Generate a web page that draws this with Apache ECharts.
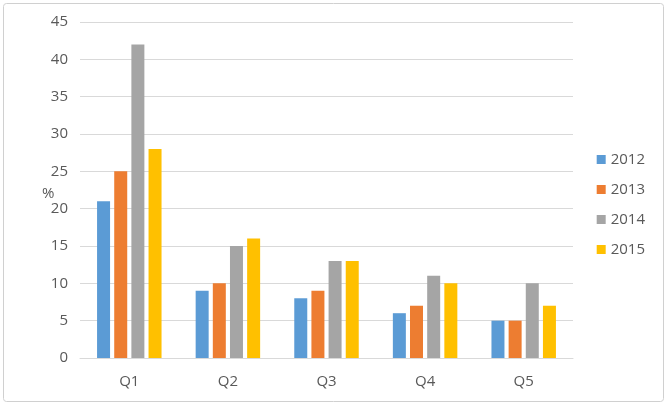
<!DOCTYPE html>
<html><head><meta charset="utf-8">
<script src="https://cdn.jsdelivr.net/npm/echarts@6/dist/echarts.min.js"></script>
<style>html,body{margin:0;padding:0;background:#fff}#c{width:668px;height:406px}</style>
</head><body><div id="c"></div>
<script>
var categories = ['Q1','Q2','Q3','Q4','Q5'];
var seriesNames = ['2012','2013','2014','2015'];
var v2012 = [21, 9, 8, 6, 5];
var v2013 = [25, 10, 9, 7, 5];
var v2014 = [42, 15, 13, 11, 10];
var v2015 = [28, 16, 13, 10, 7];
var yTicks = [0,5,10,15,20,25,30,35,40,45];
var colors = ['#5B9BD5','#ED7D31','#A5A5A5','#FFC000'];
var values = [v2012, v2013, v2014, v2015];

var chart = echarts.init(document.getElementById('c'));
chart.setOption({
  animation: false,
  color: colors,
  graphic: [{
    type: 'rect', shape: {x: 3.5, y: 3.5, width: 660, height: 398, r: 3},
    style: {fill: 'none', stroke: '#d0d0d0', lineWidth: 1}, silent: true
  }, {
    type: 'text', left: 42, top: 186,
    style: {text: '%', fill: '#595959', font: '15px "Open Sans", sans-serif'}
  }],
  grid: {left: 80, right: 95, top: 22, bottom: 48, containLabel: false},
  legend: {
    orient: 'vertical', right: 18, top: 147,
    itemWidth: 9, itemHeight: 9, itemGap: 15,
    icon: 'rect',
    textStyle: {color: '#595959', fontSize: 15, fontFamily: '"Open Sans", sans-serif'},
    data: seriesNames
  },
  xAxis: {
    type: 'category', data: categories,
    axisLine: {lineStyle: {color: '#d9d9d9'}},
    axisTick: {show: false},
    axisLabel: {color: '#595959', fontSize: 15, margin: 16, fontFamily: '"Open Sans", sans-serif'}
  },
  yAxis: {
    type: 'value', min: yTicks[0], max: yTicks[yTicks.length-1], interval: 5,
    axisLine: {show: false}, axisTick: {show: false},
    axisLabel: {color: '#595959', fontSize: 15, margin: 12, fontFamily: '"Open Sans", sans-serif'},
    splitLine: {lineStyle: {color: '#d9d9d9'}}
  },
  series: seriesNames.map(function(n, i){
    return {name: n, type: 'bar', data: values[i], barWidth: 13, barGap: '32%'};
  })
});
</script></body></html>
